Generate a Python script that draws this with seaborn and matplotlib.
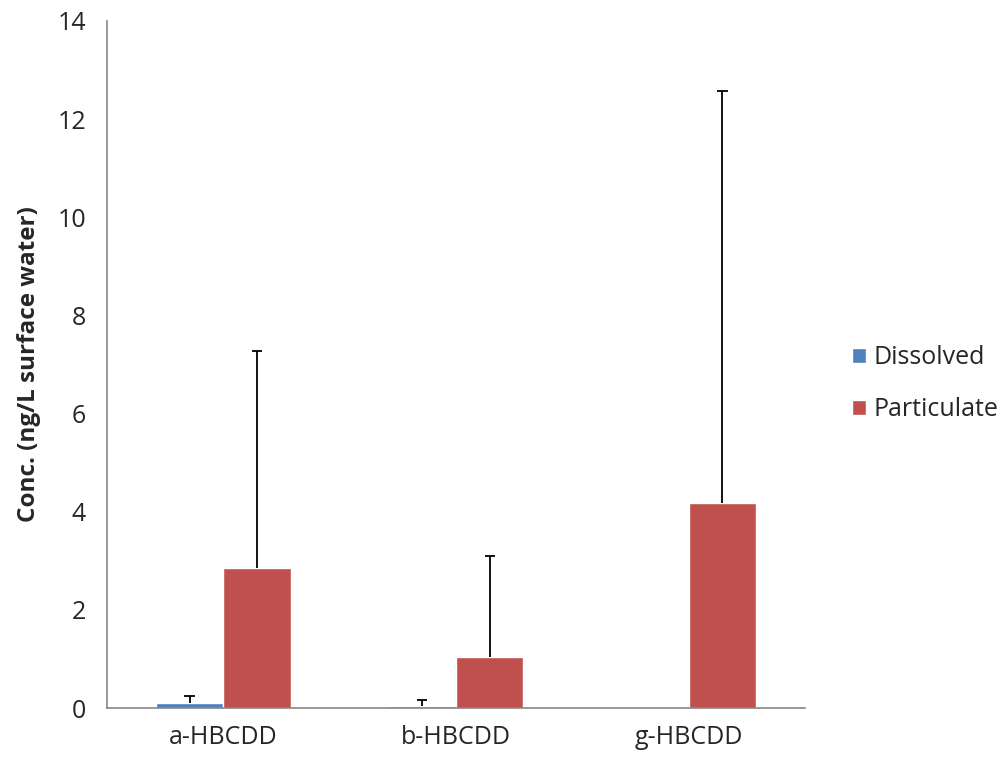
import pandas as pd
import matplotlib.pyplot as plt
import seaborn as sns

# values
isomers = ['a-HBCDD', 'b-HBCDD', 'g-HBCDD']
dissolved = [0.10, 0.05, 0.0]
particulate = [2.85, 1.03, 4.18]
dissolved_err = [0.15, 0.11, 0.0]
particulate_err = [4.43, 2.07, 8.39]

df = pd.DataFrame({
    'isomer': isomers * 2,
    'conc': dissolved + particulate,
    'phase': ['Dissolved'] * 3 + ['Particulate'] * 3,
})

sns.set_style('white')
plt.rcParams['font.family'] = ['Open Sans', 'DejaVu Sans']

fig = plt.figure(figsize=(10.03, 7.65), dpi=100)
ax = fig.add_axes([107 / 1003, 1 - 708 / 765, 698 / 1003, 687 / 765])

sns.barplot(data=df, x='isomer', y='conc', hue='phase', order=isomers,
            hue_order=['Dissolved', 'Particulate'],
            palette=['#4F81BD', '#C0504D'], width=0.58, errorbar=None,
            saturation=1, ax=ax)

# upward-only error bars (no lower cap, like Excel "plus" bars)
cap = 0.022
for cont, errs in zip(ax.containers, [dissolved_err, particulate_err]):
    for bar, e in zip(cont, errs):
        if e <= 0:
            continue
        x = bar.get_x() + bar.get_width() / 2
        h = bar.get_height()
        ax.vlines(x, h, h + e, color='black', lw=1.3, zorder=3)
        ax.hlines(h + e, x - cap, x + cap, color='black', lw=1.3, zorder=3)

ax.set_xlim(-0.5, 2.5)
ax.set_ylim(0, 14)
ax.set_yticks(range(0, 15, 2))
ax.set_xlabel('')
ax.set_ylabel('Conc. (ng/L surface water)', fontsize=17.5, fontweight='bold',
              labelpad=12)

ax.set_xticks([-0.5, 0.5, 1.5, 2.5], minor=True)
ax.tick_params(axis='x', which='major', length=0, labelsize=18, pad=12)
ax.tick_params(axis='x', which='minor', length=7, color='#868686', width=1.2,
               direction='out')
ax.tick_params(axis='y', length=7, color='#868686', width=1.2,
               direction='out', labelsize=18, pad=8)

for side in ['top', 'right']:
    ax.spines[side].set_visible(False)
for side in ['left', 'bottom']:
    ax.spines[side].set_color('#868686')
    ax.spines[side].set_linewidth(1.2)

ax.legend(loc='center left', bbox_to_anchor=(1.035, 0.472), frameon=False,
          fontsize=18, handlelength=0.55, handleheight=0.55, handletextpad=0.3,
          labelspacing=1.1)

plt.savefig('out.png', dpi=100)
